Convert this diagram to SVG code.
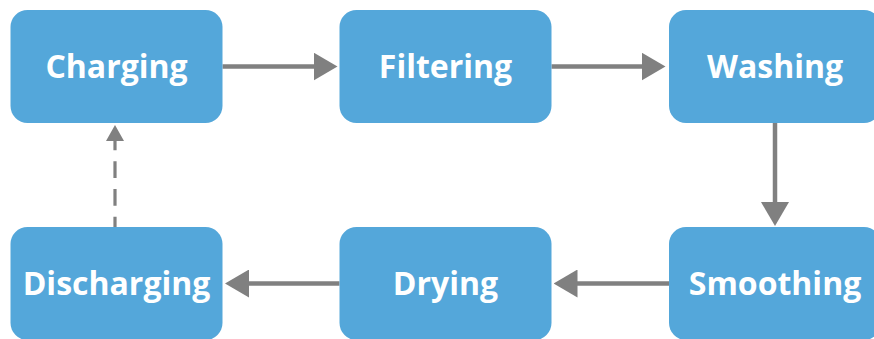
<svg xmlns="http://www.w3.org/2000/svg" width="874" height="339" viewBox="0 0 874 339">
  <style>
    .box { fill: #54A7DA; }
    .lbl { font-family: "Open Sans", "Liberation Sans", sans-serif; font-weight: 700; font-size: 32px; fill: #FFFFFF; text-anchor: middle; }
    .conn { stroke: #808080; stroke-width: 4.5; fill: none; }
    .dash { stroke: #808080; stroke-width: 3.2; fill: none; stroke-dasharray: 16.7 11; stroke-dashoffset: 6.4; }
  </style>
  <defs>
    <marker id="arrow" markerUnits="userSpaceOnUse" markerWidth="24" markerHeight="28" refX="1" refY="14" orient="auto" viewBox="0 0 24 28">
      <path d="M0,0 L24,14 L0,28 Z" fill="#808080"/>
    </marker>
    <marker id="arrowSmall" markerUnits="userSpaceOnUse" markerWidth="16" markerHeight="18" refX="1" refY="9" orient="auto" viewBox="0 0 16 18">
      <path d="M0,0 L16,9 L0,18 Z" fill="#808080"/>
    </marker>
  </defs>

  <g id="connectors">
    <path class="conn" d="M222.5,66.5 H314.5" marker-end="url(#arrow)"/>
    <path class="conn" d="M551.5,66.5 H642.5" marker-end="url(#arrow)"/>
    <path class="conn" d="M775,123 V203" marker-end="url(#arrow)"/>
    <path class="conn" d="M669,283.5 H576.5" marker-end="url(#arrow)"/>
    <path class="conn" d="M339.5,283.5 H248" marker-end="url(#arrow)"/>
    <path class="dash" d="M115,227 V140" marker-end="url(#arrowSmall)"/>
  </g>

  <g id="charging">
    <rect class="box" x="10.5" y="10" width="212" height="113" rx="17"/>
    <text class="lbl" x="116.5" y="77.5">Charging</text>
  </g>
  <g id="filtering">
    <rect class="box" x="339.5" y="10" width="212" height="113" rx="17"/>
    <text class="lbl" x="445.5" y="77.5">Filtering</text>
  </g>
  <g id="washing">
    <rect class="box" x="669" y="10" width="212" height="113" rx="17"/>
    <text class="lbl" x="775" y="77.5">Washing</text>
  </g>
  <g id="smoothing">
    <rect class="box" x="669" y="227" width="212" height="113" rx="17"/>
    <text class="lbl" x="775" y="294.5">Smoothing</text>
  </g>
  <g id="drying">
    <rect class="box" x="339.5" y="227" width="212" height="113" rx="17"/>
    <text class="lbl" x="445.5" y="294.5">Drying</text>
  </g>
  <g id="discharging">
    <rect class="box" x="10.5" y="227" width="212" height="113" rx="17"/>
    <text class="lbl" x="116.5" y="294.5">Discharging</text>
  </g>
</svg>
